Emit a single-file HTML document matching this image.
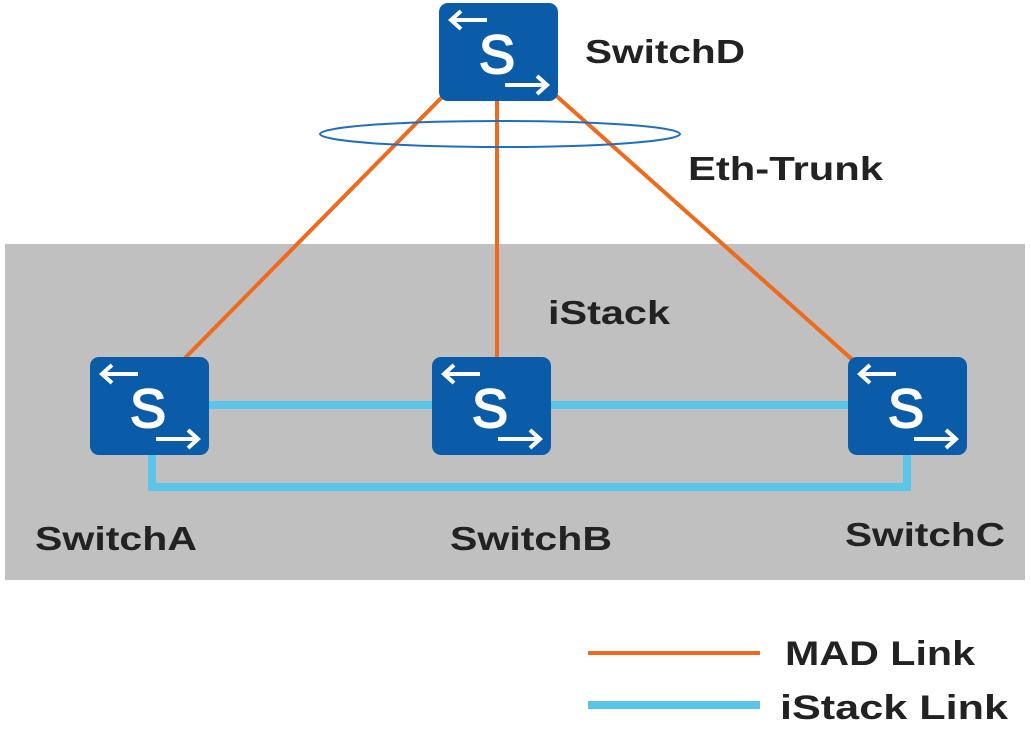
<!DOCTYPE html>
<html><head><style>body{margin:0;background:#fff}svg{display:block}text{font-family:"Liberation Sans",sans-serif;font-weight:bold;fill:#222}</style></head>
<body>
<svg width="1031" height="740" viewBox="0 0 1031 740">
<defs>
<g id="sw">
<rect x="0" y="0" width="119" height="98" rx="9" fill="#0a5ca8"/>
<line x1="12" y1="17" x2="48" y2="17" stroke="#fff" stroke-width="4"/>
<polyline points="22,8 12,17 22,26" fill="none" stroke="#fff" stroke-width="4"/>
<line x1="66" y1="82" x2="108" y2="82" stroke="#fff" stroke-width="4"/>
<polyline points="98,73 108,82 98,91" fill="none" stroke="#fff" stroke-width="4"/>
<text x="58" y="70" text-anchor="middle" font-size="54" style="fill:#fff;font-weight:normal;stroke:#fff;stroke-width:2">S</text>
</g>
</defs>
<rect x="5" y="244" width="1020" height="336" fill="#c0c0c0"/>
<g stroke="#ee6a1c" stroke-width="4">
<line x1="447" y1="92" x2="185" y2="358"/>
<line x1="497" y1="98" x2="497" y2="358"/>
<line x1="552" y1="92" x2="855" y2="362"/>
</g>
<ellipse cx="500" cy="134" rx="180" ry="13" fill="none" stroke="#1f6fbf" stroke-width="2"/>
<g stroke="#5bc5e8" stroke-width="8" fill="none">
<line x1="205" y1="405" x2="436" y2="405"/>
<line x1="548" y1="405" x2="852" y2="405"/>
<polyline points="152,452 152,487 907,487 907,452"/>
</g>
<use href="#sw" x="439" y="3"/>
<use href="#sw" x="90" y="357"/>
<use href="#sw" x="432" y="357"/>
<use href="#sw" x="848" y="357"/>
<text x="585" y="63" font-size="33" textLength="160" lengthAdjust="spacingAndGlyphs">SwitchD</text>
<text x="688" y="180" font-size="33" textLength="195" lengthAdjust="spacingAndGlyphs">Eth-Trunk</text>
<text x="548" y="324" font-size="33" textLength="122" lengthAdjust="spacingAndGlyphs">iStack</text>
<text x="35" y="550" font-size="33" textLength="162" lengthAdjust="spacingAndGlyphs">SwitchA</text>
<text x="450" y="550" font-size="33" textLength="162" lengthAdjust="spacingAndGlyphs">SwitchB</text>
<text x="845" y="546" font-size="33" textLength="160" lengthAdjust="spacingAndGlyphs">SwitchC</text>
<line x1="588" y1="653" x2="760" y2="653" stroke="#ee6a1c" stroke-width="4"/>
<line x1="588" y1="705" x2="760" y2="705" stroke="#5bc5e8" stroke-width="8"/>
<text x="785" y="665" font-size="34" textLength="190" lengthAdjust="spacingAndGlyphs">MAD Link</text>
<text x="780" y="719" font-size="34" textLength="228" lengthAdjust="spacingAndGlyphs">iStack Link</text>
</svg>
</body></html>
